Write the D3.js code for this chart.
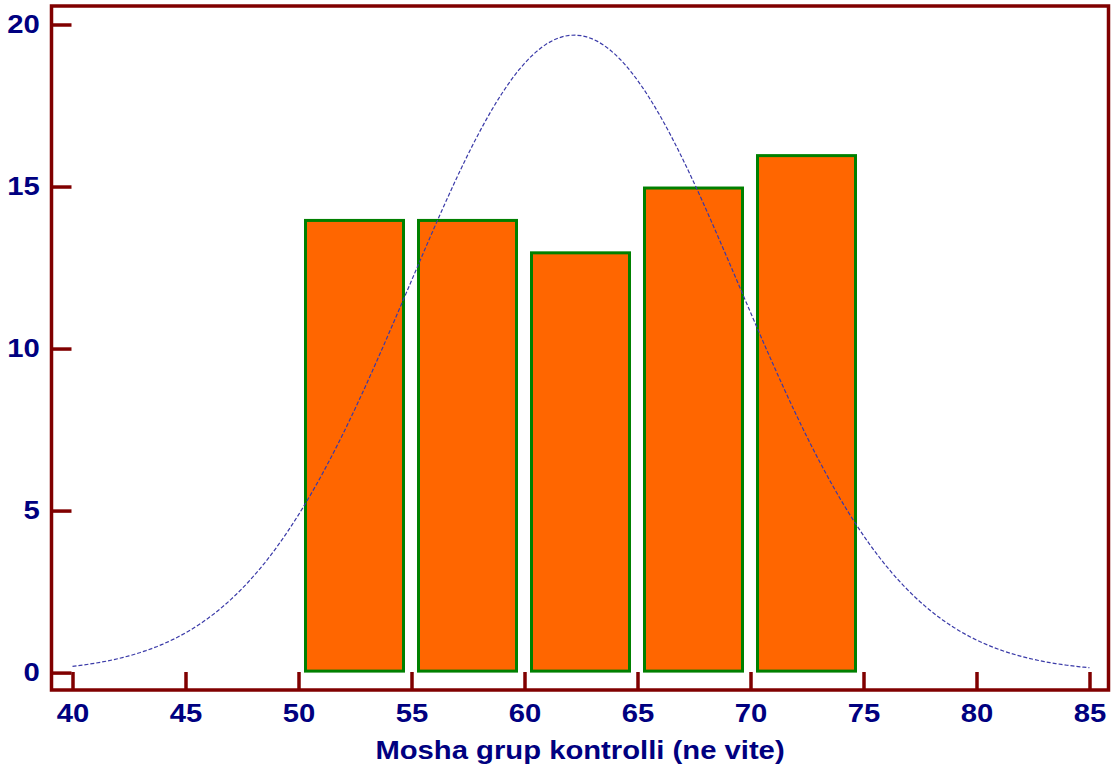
<!DOCTYPE html>
<html>
<head>
<meta charset="utf-8">
<script src="https://cdn.jsdelivr.net/npm/d3@7"></script>
<style>
  body { margin: 0; background: #fff; }
  svg { display: block; }
  .tick text { font-family: "Liberation Sans", Arial, sans-serif; font-weight: bold; font-size: 25px; fill: #000080; }
</style>
</head>
<body>
<div id="chart"></div>
<script>
// histogram bins (age, years) and their counts
const binStarts = [50, 55, 60, 65, 70];
const binWidth = 5;
const counts = [14, 14, 13, 15, 16];

// fitted normal curve parameters
const fitMean = 62.2;
const fitSd = 7.3;

const xTicks = [40, 45, 50, 55, 60, 65, 70, 75, 80, 85];
const yTicks = [0, 5, 10, 15, 20];
const xTitle = "Mosha grup kontrolli (ne vite)";

const W = 1111, H = 773;
const frame = {left: 51.5, top: 6, right: 1108.5, bottom: 690};
const stretch = 1.17; // text in the original is drawn a bit wide

const svg = d3.select("#chart").append("svg")
  .attr("width", W)
  .attr("height", H);

const x = d3.scaleLinear().domain([40, 85]).range([72.5, 1089.5]);
const y = d3.scaleLinear().domain([0, 20]).range([672.6, 24.5]);

// bars
const nTotal = d3.sum(counts);
svg.append("g")
  .selectAll("rect")
  .data(binStarts)
  .enter()
  .append("rect")
  .attr("x", d => x(d) + 7)
  .attr("y", (d, i) => y(counts[i]) + 1.5)
  .attr("width", d => x(d + binWidth) - x(d) - 15)
  .attr("height", (d, i) => y(0) - y(counts[i]) - 3)
  .attr("fill", "#ff6600")
  .attr("stroke", "#008000")
  .attr("stroke-width", 3);

// normal curve scaled to counts
const curveX = d3.range(40, 85.01, 0.25);
const dens = v => nTotal * binWidth / (fitSd * Math.sqrt(2 * Math.PI)) *
  Math.exp(-0.5 * Math.pow((v - fitMean) / fitSd, 2));

svg.append("path")
  .datum(curveX)
  .attr("fill", "none")
  .attr("stroke", "#3a3aa8")
  .attr("stroke-width", 1.2)
  .attr("stroke-dasharray", "4,2")
  .attr("d", d3.line().x(d => x(d)).y(d => y(dens(d))));

// axes (ticks point inward)
const yAxis = svg.append("g")
  .attr("transform", "translate(" + frame.left + ",0)")
  .call(d3.axisLeft(y).tickValues(yTicks).tickSize(-20).tickPadding(10));

const xAxis = svg.append("g")
  .attr("transform", "translate(0," + frame.bottom + ")")
  .call(d3.axisBottom(x).tickValues(xTicks).tickSize(-18).tickPadding(14));

[yAxis, xAxis].forEach(a => {
  a.select(".domain").remove();
  a.selectAll(".tick line").attr("stroke", "#800000").attr("stroke-width", 3.5);
  a.selectAll(".tick text").attr("transform", "scale(" + stretch + ",1)");
});

// frame
svg.append("rect")
  .attr("x", frame.left)
  .attr("y", frame.top)
  .attr("width", frame.right - frame.left)
  .attr("height", frame.bottom - frame.top)
  .attr("fill", "none")
  .attr("stroke", "#800000")
  .attr("stroke-width", 3.5);

svg.append("g")
  .attr("transform", "translate(580,759) scale(" + stretch + ",1)")
  .append("text")
  .attr("text-anchor", "middle")
  .attr("font-family", "'Liberation Sans', Arial, sans-serif")
  .attr("font-weight", "bold")
  .attr("font-size", 25)
  .attr("fill", "#000080")
  .text(xTitle);
</script>
</body>
</html>
